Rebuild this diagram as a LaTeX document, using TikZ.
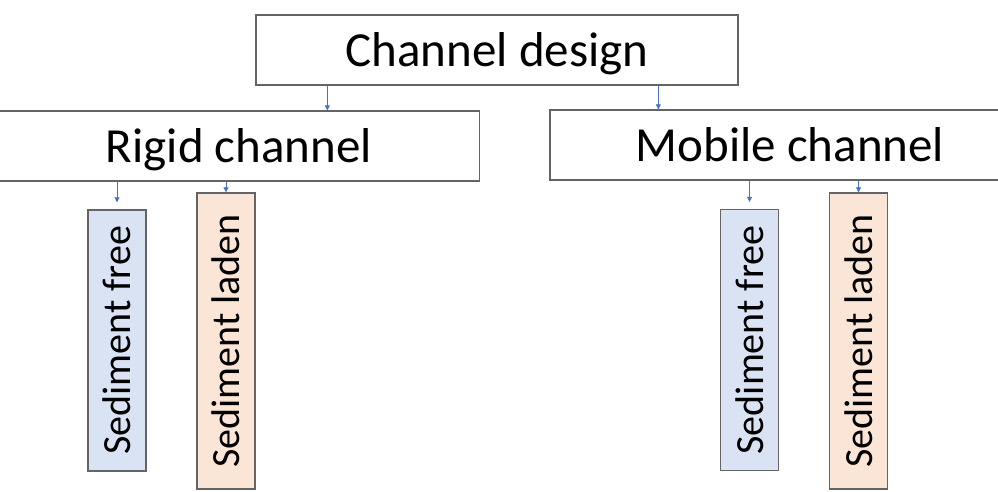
\documentclass[tikz,border=0pt]{standalone}
\usepackage{fontspec}
\usepackage{graphicx}
\setmainfont{Carlito}
\usetikzlibrary{arrows.meta,calc}
\definecolor{boxline}{HTML}{646464}
\definecolor{arrblue}{HTML}{4472C4}
\definecolor{freefill}{HTML}{DAE3F3}
\definecolor{ladenfill}{HTML}{FBE5D6}
\tikzset{
  bigbox/.style={draw=boxline, line width=1.3bp, fill=white, inner sep=0pt,
    minimum height=70bp, font=\fontsize{49bp}{58bp}\selectfont,
    text height=33bp, text depth=0bp},
  subbox/.style={draw=boxline, line width=1.3bp, inner sep=0pt,
    minimum width=58bp, font=\fontsize{40bp}{48bp}\selectfont},
  freebox/.style={subbox, fill=freefill, minimum height=261bp},
  ladenbox/.style={subbox, fill=ladenfill, minimum height=296bp},
  arr/.style={draw=arrblue, line width=0.7bp, -{Triangle[width=5bp,length=5bp]}}
}
\begin{document}
\begin{tikzpicture}[x=1bp,y=-1bp]
\useasboundingbox (0,0) rectangle (998,492);
\node[bigbox, minimum width=482bp] (top) at (497,50) {Channel design};
\node[bigbox, minimum width=481bp] (rigid) at (239,146) {Rigid channel};
\node[bigbox, minimum width=480bp] (mobile) at (790,145) {Mobile channel};
\node[freebox] (rf) at (117,340.5) {\rotatebox{90}{Sediment free}};
\node[ladenbox] (rl) at (226,341) {\rotatebox{90}{Sediment laden}};
\node[freebox] (mf) at (749.5,340) {\rotatebox{90}{Sediment free}};
\node[ladenbox] (ml) at (858.5,341) {\rotatebox{90}{Sediment laden}};
\coordinate (t1) at ($(top.south west)+(72,0)$);
\coordinate (t2) at ($(top.south west)+(403,0)$);
\draw[arr] (t1) -- (t1 |- rigid.north);
\draw[arr] (t2) -- (t2 |- mobile.north);
\draw[arr] (rigid.south -| rf.north) -- ($(rf.north)+(0,-7)$);
\draw[arr] (rigid.south -| rl.north) -- (rl.north);
\draw[arr] (mobile.south -| mf.north) -- ($(mf.north)+(0,-7)$);
\draw[arr] (mobile.south -| ml.north) -- (ml.north);
\end{tikzpicture}
\end{document}
